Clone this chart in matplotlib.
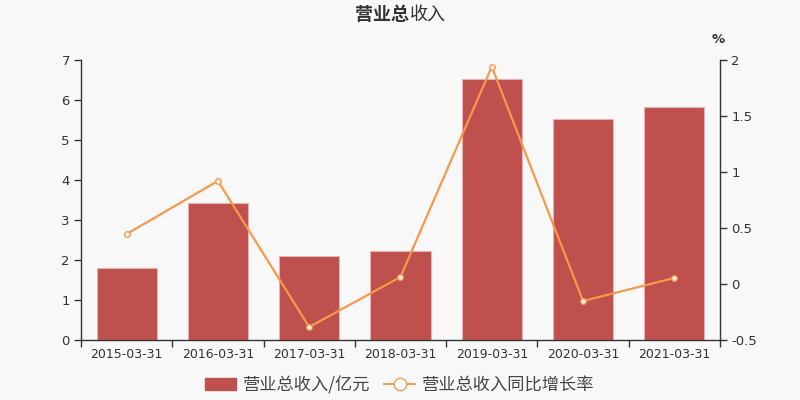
import matplotlib
matplotlib.use("Agg")
import matplotlib.pyplot as plt
from matplotlib.lines import Line2D
from matplotlib.patches import Patch

plt.rcParams['font.family'] = ['DejaVu Sans', 'Noto Sans CJK SC']

categories = ["2015-03-31", "2016-03-31", "2017-03-31", "2018-03-31",
              "2019-03-31", "2020-03-31", "2021-03-31"]
revenue = [1.80, 3.43, 2.10, 2.22, 6.52, 5.52, 5.82]
growth = [0.446, 0.92, -0.384, 0.063, 1.94, -0.152, 0.054]
left_ticks = [0, 1, 2, 3, 4, 5, 6, 7]
right_ticks = [-0.5, 0, 0.5, 1, 1.5, 2]
right_labels = ["-0.5", "0", "0.5", "1", "1.5", "2"]

bg = "#f8f8f8"
bar_color = "#c0504d"
line_color = "#f5994a"
text_color = "#333333"
axis_color = "#333333"

fig = plt.figure(figsize=(8, 4), dpi=100, facecolor=bg)
ax = fig.add_axes([0.10125, 0.15, 0.79875, 0.70])
ax.set_facecolor(bg)
x = list(range(len(categories)))
ax.bar(x, revenue, width=0.66, color=bar_color, edgecolor="#e3b4b3", linewidth=0.8, zorder=2)
ax.set_xlim(-0.5, len(categories) - 0.5)
ax.set_ylim(0, 7)
ax.set_yticks(left_ticks)
ax.set_xticks(x)
ax.set_xticklabels(categories)
ax.set_xticks([i + 0.5 for i in range(len(categories) - 1)] + [-0.5, len(categories) - 0.5], minor=True)
ax.tick_params(axis='x', which='major', length=0, pad=6, labelsize=9, colors=text_color)
ax.tick_params(axis='x', which='minor', length=5, width=1, color=axis_color)
ax.tick_params(axis='y', length=5, width=1, color=axis_color, labelsize=9.5, labelcolor=text_color, pad=3)
for s in ['top', 'right']:
    ax.spines[s].set_visible(False)
for s in ['left', 'bottom']:
    ax.spines[s].set_color(axis_color)
    ax.spines[s].set_linewidth(1)

ax2 = ax.twinx()
ax2.plot(x, growth, color=line_color, linewidth=1.6, marker='o', markersize=4,
         markerfacecolor='white', markeredgecolor=line_color, markeredgewidth=1, zorder=3)
ax2.set_ylim(-0.5, 2)
ax2.set_yticks(right_ticks)
ax2.set_yticklabels(right_labels)
ax2.tick_params(axis='y', length=5, width=1, color=axis_color, labelsize=9.5, labelcolor=text_color, pad=3)
for s in ['top', 'left', 'bottom']:
    ax2.spines[s].set_visible(False)
ax2.spines['right'].set_color(axis_color)
ax2.spines['right'].set_linewidth(1)
fig.text(0.898, 0.902, "%", fontsize=9.5, color=text_color, ha='center', va='center', fontweight='bold')

fig.text(0.511, 0.963, "营业总", fontsize=13, ha='right', va='center', color=text_color,
         fontweight='bold', family=['Noto Sans CJK SC'])
fig.text(0.512, 0.963, "收入", fontsize=13, ha='left', va='center', color=text_color,
         family=['Noto Sans CJK SC'])

handles = [Patch(facecolor=bar_color, edgecolor=bar_color),
           Line2D([0], [0], color=line_color, linewidth=1.4, marker='o', markersize=9,
                  markerfacecolor='white', markeredgecolor=line_color)]
labels = ["营业总收入/亿元", "营业总收入同比增长率"]
leg = fig.legend(handles, labels, loc='center', bbox_to_anchor=(0.5, 0.037), ncol=2,
                 frameon=False, handlelength=1.8, handletextpad=0.4,
                 columnspacing=0.8, prop={'family': ['Noto Sans CJK SC'], 'size': 12.4})
for t in leg.get_texts():
    t.set_color("#444444")

fig.savefig("out.png", dpi=100, facecolor=bg)
